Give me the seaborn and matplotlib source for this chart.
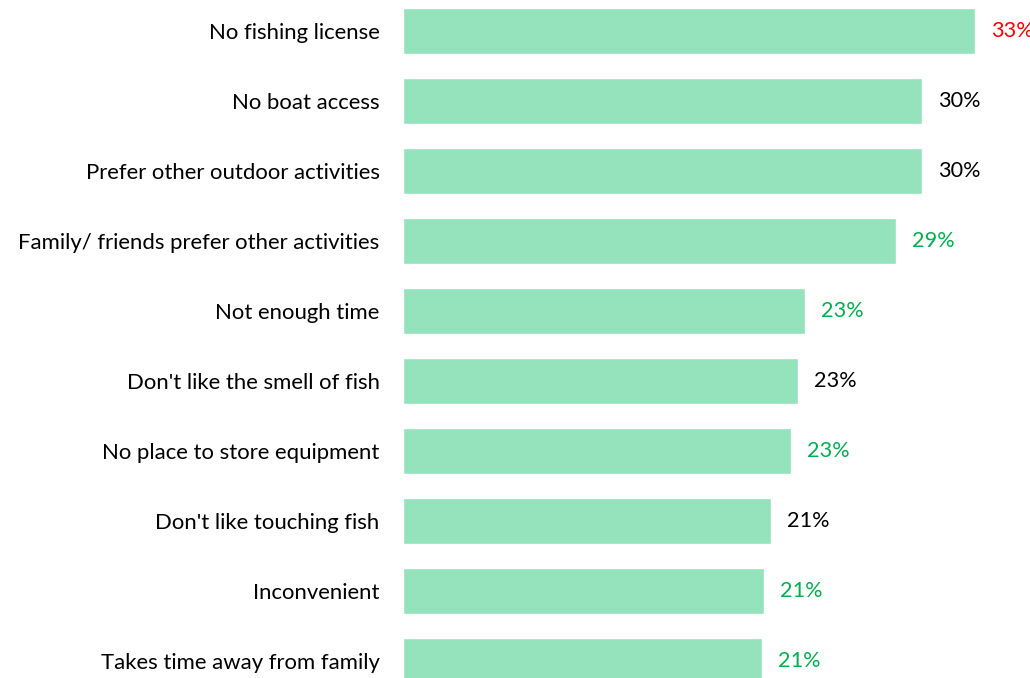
import matplotlib
matplotlib.use("Agg")
import matplotlib.pyplot as plt
import seaborn as sns
import pandas as pd

# Reasons for not fishing, share of respondents (%)
reasons = [
    "No fishing license",
    "No boat access",
    "Prefer other outdoor activities",
    "Family/ friends prefer other activities",
    "Not enough time",
    "Don't like the smell of fish",
    "No place to store equipment",
    "Don't like touching fish",
    "Inconvenient",
    "Takes time away from family",
]
shares = [33.3, 30.2, 30.2, 28.7, 23.4, 23.0, 22.6, 21.4, 21.0, 20.9]
# significance flag per reason: "high", "low" or "none"
flags = ["high", "none", "none", "low", "low", "none", "low", "none", "low", "low"]

flag_colors = {"high": "#FF0000", "low": "#00B050", "none": "#000000"}
bar_color = "#94E3BC"

sns.set_theme(style="white")
plt.rcParams["font.family"] = ["Lato", "DejaVu Sans"]

df = pd.DataFrame({"reason": reasons, "share": shares})

fig = plt.figure(figsize=(10.30, 6.78), dpi=100)
left = 402.5 / 1030
ax = fig.add_axes([left, 0, 1 - left, 1])

sns.barplot(data=df, y="reason", x="share", orient="h", color=bar_color,
            saturation=1, width=46 / 70, ax=ax)

ax.set_xlim(0, 36.48)
ax.set_ylim(9.243, -0.443)

for i, (v, f) in enumerate(zip(shares, flags)):
    ax.annotate(f"{v:.0f}%", xy=(v, i), xytext=(11.5, 0), textcoords="offset points",
                ha="left", va="center", fontsize=15.6, color=flag_colors[f],
                annotation_clip=False)

ax.set_xlabel("")
ax.set_ylabel("")
ax.set_xticks([])
ax.tick_params(axis="y", length=0, pad=16.5, labelsize=15.9, labelcolor="#000000")
for s in ax.spines.values():
    s.set_visible(False)

fig.savefig("out.png", dpi=100)
